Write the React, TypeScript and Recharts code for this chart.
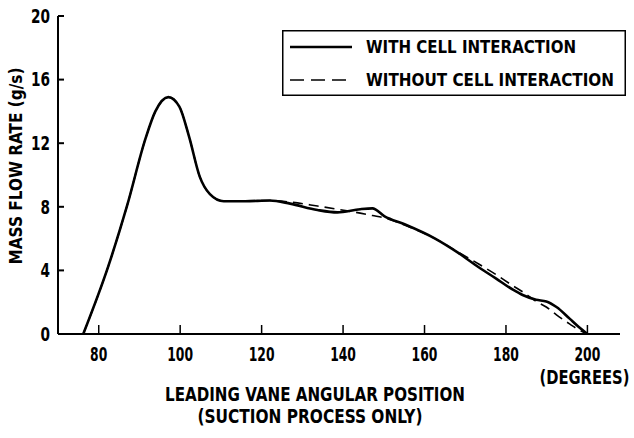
import React from 'react';
import { LineChart, Line, XAxis, YAxis, Legend } from 'recharts';

const angles = [76.2, 82.4, 87.0, 91.5, 93.9, 97.1, 99.8, 102.2, 104.8, 107.3, 110.7, 116, 122, 127, 133.7, 138.6, 144.2, 147.2, 150.2, 155.1, 162.6, 168.3, 173.3, 177.5, 181.6, 184.1, 187.4, 189.9, 192.4, 195.7, 197.4, 200];
const withCell = [0, 4.3, 8.1, 12.3, 14.0, 14.9, 14.3, 12.4, 9.9, 8.8, 8.35, 8.35, 8.4, 8.2, 7.8, 7.65, 7.85, 7.9, 7.4, 6.9, 6.0, 5.1, 4.2, 3.5, 2.8, 2.45, 2.15, 2.05, 1.7, 0.95, 0.55, 0];
const withoutCell = [0, 4.3, 8.1, 12.3, 14.0, 14.9, 14.3, 12.4, 9.9, 8.8, 8.35, 8.35, 8.4, 8.3, 8.05, 7.85, 7.6, 7.45, 7.3, 6.85, 6.0, 5.15, 4.4, 3.75, 3.05, 2.65, 2.05, 1.7, 1.2, 0.62, 0.34, 0];
const xTicks = [80, 100, 120, 140, 160, 180, 200];
const yTicks = [0, 4, 8, 12, 16, 20];
const seriesNames = ['WITH CELL INTERACTION', 'WITHOUT CELL INTERACTION'];
const xLabelLines = ['LEADING VANE ANGULAR POSITION', '(SUCTION PROCESS ONLY)'];
const yLabel = 'MASS FLOW RATE (g/s)';
const unitLabel = '(DEGREES)';

const data = angles.map((a, i) => ({ angle: a, withCell: withCell[i], withoutCell: withoutCell[i] }));

const FONT = "'DejaVu Sans Condensed', 'DejaVu Sans', 'Liberation Sans', sans-serif";

const XTick = (props: any) => {
  const { x, y, payload } = props;
  const s = String(payload.value);
  return (
    <g>
      <text x={x} y={y} dy="0.73em" textAnchor="middle" fontFamily={FONT} fontWeight="bold" fontSize={19} fill="#000"
        textLength={s.length * 8.6} lengthAdjust="spacingAndGlyphs">
        {s}
      </text>
      {payload.value === 200 ? (
        <text x={0} y={0} dy="0.73em" transform={`translate(${x - 3}, ${y + 23}) scale(0.75, 1)`} textAnchor="middle" fontFamily={FONT} fontWeight="bold" fontSize={19} fill="#000"
          textLength={120} lengthAdjust="spacingAndGlyphs">
          {unitLabel}
        </text>
      ) : null}
    </g>
  );
};

const YTick = (props: any) => {
  const { x, y, payload } = props;
  const s = String(payload.value);
  return (
    <text x={x} y={y} dy="0.36em" textAnchor="end" fontFamily={FONT} fontWeight="bold" fontSize={19} fill="#000"
      textLength={s.length * 9.5} lengthAdjust="spacingAndGlyphs">
      {s}
    </text>
  );
};

const legendTextLengths = [210, 248];

const renderLegend = () => (
  <svg width={344} height={66} style={{ display: 'block', overflow: 'visible' }}>
    <rect x={0.75} y={0.75} width={342.5} height={64.5} fill="#fff" stroke="#000" strokeWidth={1.5} />
    {seriesNames.map((name, i) => {
      const cy = 17 + i * 33;
      return (
        <g key={name}>
          <line x1={8} y1={cy} x2={70} y2={cy} stroke="#000" strokeWidth={i === 0 ? 2.6 : 1.6} strokeDasharray={i === 0 ? undefined : '14 7'} />
          <text x={84} y={cy} dy="0.36em" fontFamily={FONT} fontWeight="bold" fontSize={18} fill="#000"
            textLength={legendTextLengths[i]} lengthAdjust="spacingAndGlyphs">
            {name}
          </text>
        </g>
      );
    })}
  </svg>
);

const YLabelContent = () => (
  <text x={15} y={166} transform="rotate(-90, 15, 166)" textAnchor="middle" dominantBaseline="central" fontFamily={FONT} fontWeight="bold" fontSize={18} fill="#000"
    textLength={197} lengthAdjust="spacingAndGlyphs">
    {yLabel}
  </text>
);

const xLabelGeom = [
  { cx: 315, cy: 394, len: 300 },
  { cx: 310, cy: 416, len: 225 },
];

const XLabelContent = () => (
  <g>
    {xLabelLines.map((t, i) => (
      <text key={t} x={xLabelGeom[i].cx} y={xLabelGeom[i].cy} textAnchor="middle" dominantBaseline="central" fontFamily={FONT} fontWeight="bold" fontSize={19} fill="#000"
        textLength={xLabelGeom[i].len} lengthAdjust="spacingAndGlyphs">
        {t}
      </text>
    ))}
  </g>
);

export default function App() {
  return (
    <div style={{ position: 'absolute', left: 0, top: 0, width: 634, height: 438, background: '#fff' }}>
      <LineChart width={634} height={438} data={data} margin={{ top: 16, right: 14, bottom: 74, left: 18 }}>
        <XAxis
          dataKey="angle"
          type="number"
          domain={[70, 208]}
          ticks={xTicks}
          allowDataOverflow
          height={30}
          tickSize={-9}
          tickMargin={22}
          tick={<XTick />}
          axisLine={{ stroke: '#000', strokeWidth: 2 }}
          tickLine={{ stroke: '#000', strokeWidth: 1.5 }}
          label={<XLabelContent />}
        />
        <YAxis
          type="number"
          domain={[0, 20]}
          ticks={yTicks}
          width={40}
          tickSize={-6}
          tickMargin={14}
          tick={<YTick />}
          axisLine={{ stroke: '#000', strokeWidth: 2 }}
          tickLine={{ stroke: '#000', strokeWidth: 2 }}
          label={<YLabelContent />}
        />
        <Legend
          layout="vertical"
          verticalAlign="middle"
          align="center"
          content={renderLegend}
          wrapperStyle={{ position: 'absolute', left: 282, top: 30, width: 344, height: 66 }}
        />
        <Line
          type="monotone"
          dataKey="withoutCell"
          name={seriesNames[1]}
          stroke="#000"
          strokeWidth={1.6}
          strokeDasharray="10 6"
          dot={false}
          activeDot={false}
          isAnimationActive={false}
        />
        <Line
          type="monotone"
          dataKey="withCell"
          name={seriesNames[0]}
          stroke="#000"
          strokeWidth={2.6}
          dot={false}
          activeDot={false}
          isAnimationActive={false}
        />
      </LineChart>
    </div>
  );
}
